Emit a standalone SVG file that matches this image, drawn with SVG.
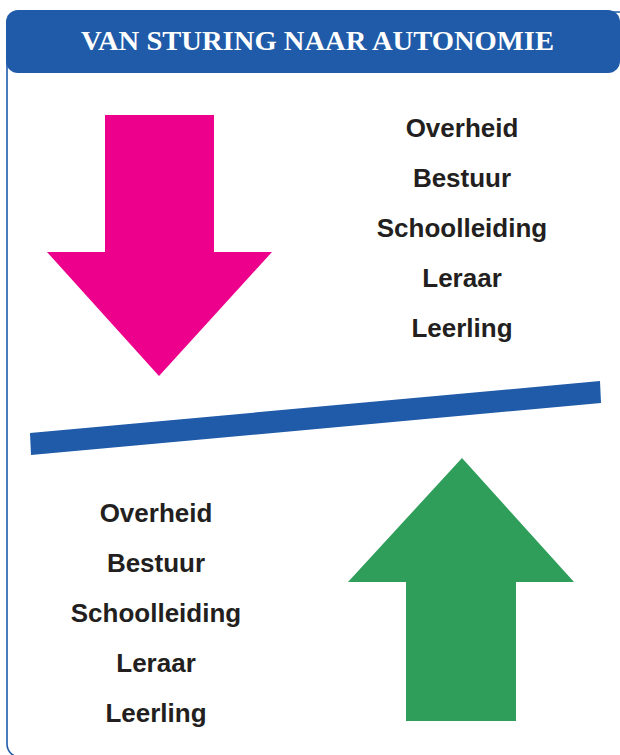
<svg xmlns="http://www.w3.org/2000/svg" width="620" height="755" viewBox="0 0 620 755">
  <style>
    .frame { fill: none; stroke: #1f5ba8; stroke-width: 1.6; }
    .header { fill: #1f5ba8; }
    .title { font-family: "Liberation Serif", "Times New Roman", serif; font-weight: bold; font-size: 28px; fill: #ffffff; }
    .label { font-family: "Liberation Sans", Arial, sans-serif; font-weight: bold; font-size: 26px; fill: #231f20; text-anchor: middle; }
    .down { fill: #ec008c; }
    .up { fill: #2f9e5b; }
    .divider { fill: #1f5ba8; }
  </style>

  <rect x="0" y="0" width="620" height="755" fill="#ffffff"/>

  <!-- outer panel and title bar -->
  <rect class="frame" x="7" y="12" width="625" height="745" rx="13"/>
  <g id="title">
    <rect class="header" x="6" y="10" width="614" height="63" rx="12"/>
    <text class="title" x="81" y="50" textLength="473" lengthAdjust="spacingAndGlyphs">VAN STURING NAAR AUTONOMIE</text>
  </g>

  <!-- top-down steering: magenta arrow pointing down -->
  <g id="arrow-down">
    <polygon class="down" points="105,115 214,115 214,252 272,252 159,376 47,252 105,252"/>
  </g>
  <g id="list-top">
    <text class="label" x="462" y="137">Overheid</text>
    <text class="label" x="462" y="187">Bestuur</text>
    <text class="label" x="462" y="237">Schoolleiding</text>
    <text class="label" x="462" y="287">Leraar</text>
    <text class="label" x="462" y="337">Leerling</text>
  </g>

  <!-- slanted separator bar -->
  <g id="divider">
    <polygon class="divider" points="30,433 600,381 601,403 31,455"/>
  </g>

  <!-- bottom-up autonomy: green arrow pointing up -->
  <g id="arrow-up">
    <polygon class="up" points="462,458 574,582 516,582 516,721 406,721 406,582 348,582"/>
  </g>
  <g id="list-bottom">
    <text class="label" x="156" y="522">Overheid</text>
    <text class="label" x="156" y="572">Bestuur</text>
    <text class="label" x="156" y="622">Schoolleiding</text>
    <text class="label" x="156" y="672">Leraar</text>
    <text class="label" x="156" y="722">Leerling</text>
  </g>
</svg>
